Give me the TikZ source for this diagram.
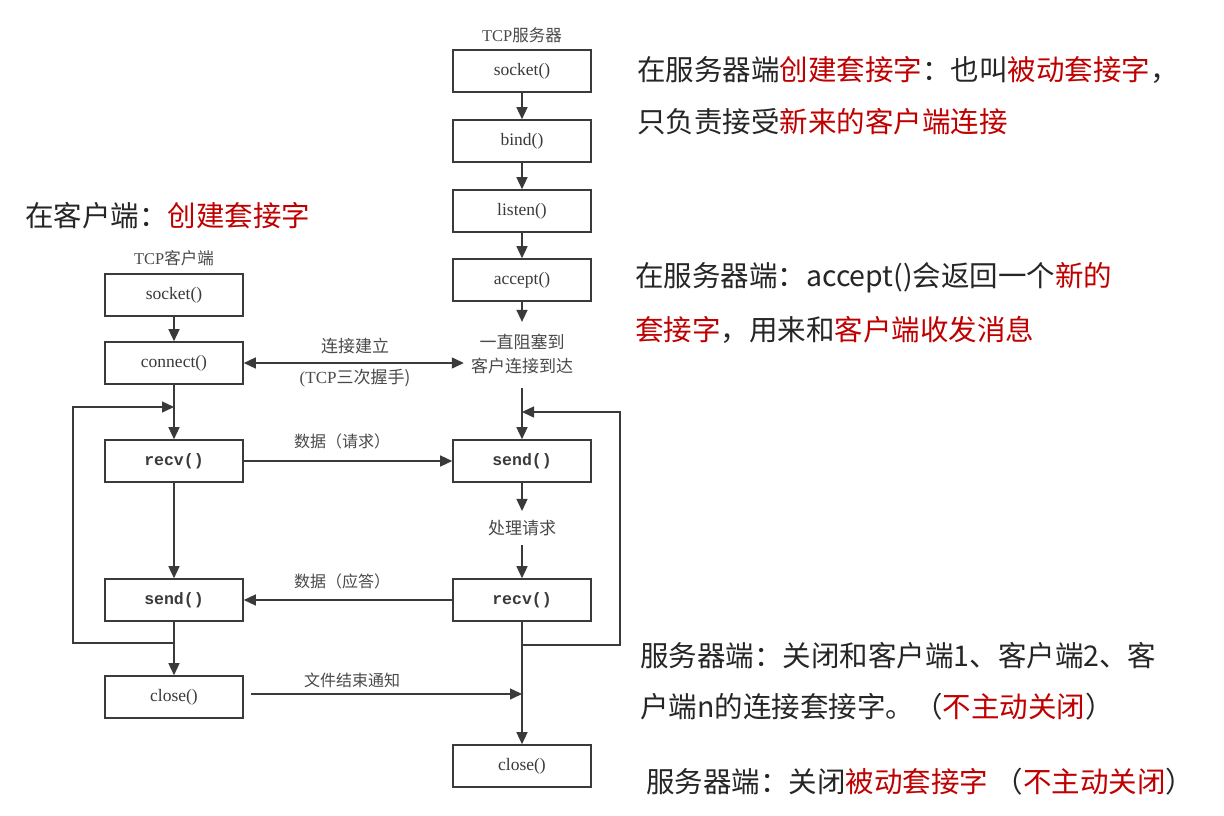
\documentclass[tikz,border=0pt]{standalone}
\usepackage{fontspec}
\usetikzlibrary{arrows.meta}
\newfontfamily\cjk{Noto Sans CJK SC}
\newfontfamily\tnr{Liberation Serif}
\newfontfamily\mono{Liberation Mono}
\definecolor{ln}{HTML}{3A3A3A}
\definecolor{rd}{HTML}{C00000}
\definecolor{tx}{HTML}{262626}
\definecolor{lb}{HTML}{4A4A4A}
\begin{document}
\begin{tikzpicture}[x=1pt,y=-1pt,
  box/.style={draw=ln,line width=1.6pt,minimum width=138pt,minimum height=42pt,inner sep=0pt,
    font=\tnr\fontsize{17.5}{17.5}\selectfont,text=ln},
  bbox/.style={box,font=\mono\bfseries\fontsize{16.5}{16.5}\selectfont},
  lbl/.style={font=\cjk\fontsize{16}{18}\selectfont,text=lb,inner sep=1pt},
  ttl/.style={font=\tnr\fontsize{16.5}{16.5}\selectfont,text=lb,inner sep=1pt},
  arr/.style={draw=ln,line width=1.4pt,-{Triangle[length=12pt,width=11pt]}},
  arrb/.style={draw=ln,line width=1.4pt,{Triangle[length=12pt,width=11pt]}-{Triangle[length=12pt,width=11pt]}},
  note/.style={font=\cjk\fontsize{28.5}{28.5}\selectfont,text=tx,anchor=west,inner sep=0pt}]
\useasboundingbox[fill=white] (0,0) rectangle (1224,816);

% server column
\node[ttl] (stitle) at (522,35) {TCP\cjk 服务器};
\node[box] (sss) at (522,71) {socket()};
\node[box] (sbind) at (522,141) {bind()};
\node[box] (slisten) at (522,211) {listen()};
\node[box] (sacc) at (522,280) {accept()};
\node[lbl,align=center,font=\cjk\fontsize{17}{24}\selectfont,inner sep=0pt] (block) at (522,354) {一直阻塞到\\客户连接到达};
\node[bbox] (ssend) at (522,461) {send()};
\node[lbl,font=\cjk\fontsize{17}{18}\selectfont] (proc) at (522,528) {处理请求};
\node[bbox] (srecv) at (522,600) {recv()};
\node[box] (sclose) at (522,766) {close()};

% client column
\node[ttl] (ctitle) at (174,258) {TCP\cjk 客户端};
\node[box] (css) at (174,295) {socket()};
\node[box] (ccon) at (174,363) {connect()};
\node[bbox] (crecv) at (174,461) {recv()};
\node[bbox] (csend) at (174,600) {send()};
\node[box] (cclose) at (174,697) {close()};

% server arrows
\draw[arr] (sss) -- (sbind);
\draw[arr] (sbind) -- (slisten);
\draw[arr] (slisten) -- (sacc);
\draw[arr,shorten >=12pt] (sacc) -- (block);
\draw[arr,shorten <=14pt] (block) -- (ssend);
\draw[arr,shorten >=8pt] (ssend) -- (proc);
\draw[arr,shorten <=8pt] (proc) -- (srecv);
\draw[arr] (srecv) -- (sclose);
\coordinate (sj) at (522,412);
\draw[arr] (srecv.south) -- (522,645) -- (620,645) -- (620,412) -- (sj);

% client arrows
\draw[arr] (css) -- (ccon);
\draw[arr] (ccon) -- (crecv);
\draw[arr] (crecv) -- (csend);
\draw[arr] (csend) -- (cclose);
\coordinate (cj) at (174,407);
\draw[arr] (csend.south) -- (174,643) -- (73,643) -- (73,407) -- (cj);

% horizontal
\draw[arrb,shorten >=7pt] (ccon.east) -- (ccon.east -| block.west);
\node[lbl,font=\cjk\fontsize{17}{18}\selectfont] (l1) at (355,346) {连接建立};
\node[lbl,font=\tnr\fontsize{17}{18}\selectfont] (l2) at (355,378) {(TCP\cjk 三次握手)};
\draw[arr] (crecv) -- (ssend);
\node[lbl] (l3) at (342,441) {数据（请求）};
\draw[arr] (srecv) -- (csend);
\node[lbl] (l4) at (342,581) {数据（应答）};
\coordinate (ce) at (522,694);
\draw[arr,shorten <=7pt] (cclose.east |- ce) -- (ce);
\node[lbl] (l5) at (352,680) {文件结束通知};

% notes
\node[note] (n1) at (637,70) {在服务器端\textcolor{rd}{创建套接字}：也叫\textcolor{rd}{被动套接字}，};
\node[note] (n2) at (637,122) {只负责接受\textcolor{rd}{新来的客户端连接}};
\node[note] (n3) at (25,216) {在客户端：\textcolor{rd}{创建套接字}};
\node[note] (n4) at (635,278) {在服务器端：accept()会返回一个\textcolor{rd}{新的}};
\node[note] (n5) at (635,330) {\textcolor{rd}{套接字}，用来和\textcolor{rd}{客户端收发消息}};
\node[note] (n6) at (640,656) {服务器端：关闭和客户端1、客户端2、客};
\node[note] (n7) at (640,707) {户端n的连接套接字。（\textcolor{rd}{不主动关闭}）};
\node[note] (n8) at (646,782) {服务器端：关闭\textcolor{rd}{被动套接字} （\textcolor{rd}{不主动关闭}）};
\end{tikzpicture}
\end{document}
